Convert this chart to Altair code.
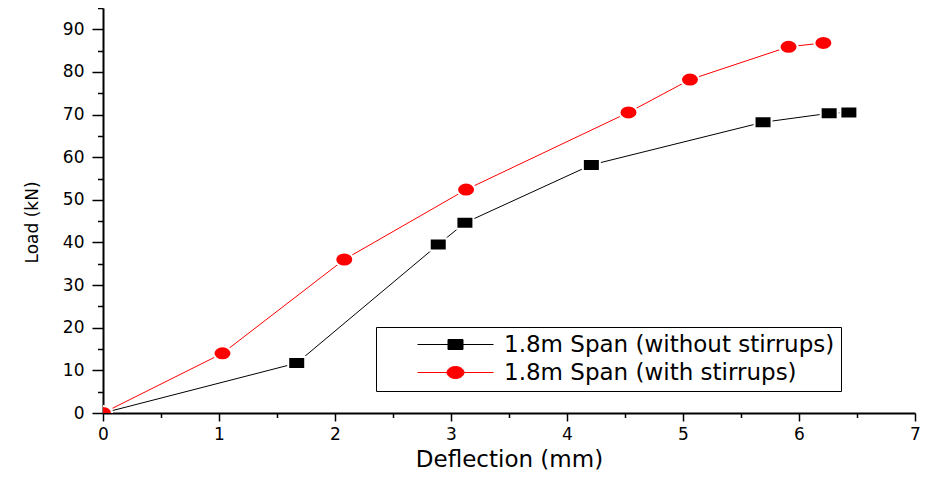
import altair as alt
import pandas as pd

series_names = ["1.8m Span (without stirrups)", "1.8m Span (with stirrups)"]
series_colors = ["#000000", "#ff0000"]

x_without = [0, 1.67, 2.89, 3.12, 4.21, 5.69, 6.26, 6.43]
y_without = [0, 11.7, 39.5, 44.6, 58.2, 68.2, 70.3, 70.5]
x_with = [0, 1.03, 2.08, 3.13, 4.53, 5.06, 5.91, 6.21]
y_with = [0, 14.0, 36.0, 52.4, 70.5, 78.2, 85.9, 86.8]

x_ticks = [0, 1, 2, 3, 4, 5, 6, 7]
x_minor = [0.5, 1.5, 2.5, 3.5, 4.5, 5.5, 6.5]
y_ticks = [0, 10, 20, 30, 40, 50, 60, 70, 80, 90]
y_minor = [5, 15, 25, 35, 45, 55, 65, 75, 85, 95]

FONT = "DejaVu Sans"

df = pd.DataFrame({
    "deflection": x_without + x_with,
    "load": y_without + y_with,
    "series": [series_names[0]] * len(x_without) + [series_names[1]] * len(x_with),
})

# marker shapes (unit box scaled by sqrt(size)/2)
rect_path = "M-0.85,-0.6H0.85V0.6H-0.85Z"
ellipse_path = ("M-0.9,0C-0.9,-0.3866 -0.497,-0.7 0,-0.7C0.497,-0.7 0.9,-0.3866 0.9,0"
                "C0.9,0.3866 0.497,0.7 0,0.7C-0.497,0.7 -0.9,0.3866 -0.9,0Z")
legend_rect = "M2.4,0H10M5.45,-0.5H6.95V0.5H5.45Z"
legend_ellipse = ("M2.4,0H10M5.35,0C5.35,-0.3314 5.7305,-0.6 6.2,-0.6C6.6695,-0.6 7.05,-0.3314 7.05,0"
                  "C7.05,0.3314 6.6695,0.6 6.2,0.6C5.7305,0.6 5.35,0.3314 5.35,0Z")

xscale = alt.Scale(domain=[0, 7], nice=False, zero=False)
yscale = alt.Scale(domain=[0, 95], nice=False, zero=False)

x_major_axis = alt.Axis(
    orient="bottom", values=x_ticks, format="d", labelFlush=False, grid=False,
    tickSize=8, tickWidth=1.5, tickColor="black",
    domainColor="black", domainWidth=2,
    labelFont=FONT, labelFontSize=17, labelColor="black", labelPadding=5,
    title="Deflection (mm)", titleFont=FONT, titleFontSize=23, titleFontWeight="normal",
    titleColor="black", titleY=53, titleBaseline="alphabetic",
)
y_major_axis = alt.Axis(
    orient="left", values=y_ticks, format="d", grid=False,
    tickSize=11, tickWidth=1.5, tickColor="black",
    domainColor="black", domainWidth=2,
    labelFont=FONT, labelFontSize=17, labelColor="black", labelPadding=8,
    title="Load (kN)", titleFont=FONT, titleFontSize=17, titleFontWeight="normal",
    titleColor="black", titleX=-66, titleY=214, titleAngle=270,
    titleAlign="center", titleBaseline="alphabetic",
)
x_minor_axis = alt.Axis(
    orient="bottom", values=x_minor, labels=False, grid=False, domain=False,
    tickSize=4.5, tickWidth=1.5, tickColor="black", title=None,
)
y_minor_axis = alt.Axis(
    orient="left", values=y_minor, labels=False, grid=False, domain=False,
    tickSize=5.5, tickWidth=1.5, tickColor="black", title=None,
)

base = alt.Chart(df)

line_black = base.transform_filter(alt.datum.series == series_names[0]).mark_line(
    color=series_colors[0], strokeWidth=1, clip=True
).encode(
    x=alt.X("deflection:Q", scale=xscale, axis=x_major_axis),
    y=alt.Y("load:Q", scale=yscale, axis=y_major_axis),
)

line_red = base.transform_filter(alt.datum.series == series_names[1]).mark_line(
    color=series_colors[1], strokeWidth=1, clip=True
).encode(
    x=alt.X("deflection:Q", scale=xscale, axis=x_minor_axis),
    y=alt.Y("load:Q", scale=yscale, axis=y_minor_axis),
)

pts_black = base.transform_filter(alt.datum.series == series_names[0]).mark_point(
    shape=rect_path, filled=True, fill=series_colors[0], stroke="white",
    strokeWidth=2, size=400, opacity=1, clip=True
).encode(
    x=alt.X("deflection:Q", scale=xscale, axis=None),
    y=alt.Y("load:Q", scale=yscale, axis=None),
)

pts_red = base.transform_filter(alt.datum.series == series_names[1]).mark_point(
    shape=ellipse_path, filled=True, fill=series_colors[1], stroke="white",
    strokeWidth=2, size=400, opacity=1, clip=True
).encode(
    x=alt.X("deflection:Q", scale=xscale, axis=None),
    y=alt.Y("load:Q", scale=yscale, axis=None),
)

leg = alt.Legend(
    title=None, orient="none", legendX=273, legendY=319, direction="vertical",
    strokeColor="black", fillColor="white", padding=6, rowPadding=4,
    symbolSize=400, symbolStrokeWidth=1,
    labelFont=FONT, labelFontSize=23, labelColor="black", labelOffset=99, labelLimit=800,
)

legend_layer = base.transform_filter("false").mark_point(
    filled=True, size=400, strokeWidth=1, opacity=1
).encode(
    fill=alt.Fill("series:N", scale=alt.Scale(domain=series_names, range=series_colors), legend=leg),
    stroke=alt.Stroke("series:N", scale=alt.Scale(domain=series_names, range=series_colors), legend=leg),
    shape=alt.Shape("series:N", scale=alt.Scale(domain=series_names, range=[legend_rect, legend_ellipse]), legend=leg),
)

chart = alt.layer(
    line_black, line_red, pts_black, pts_red, legend_layer
).resolve_axis(
    x="independent", y="independent"
).properties(
    width=812, height=405,
    padding={"left": 95, "top": 0, "right": 5, "bottom": 58},
    autosize=alt.AutoSizeParams(type="none"),
).configure_view(stroke=None)

chart.save("out.html", embed_options={"renderer": "svg", "actions": False})
